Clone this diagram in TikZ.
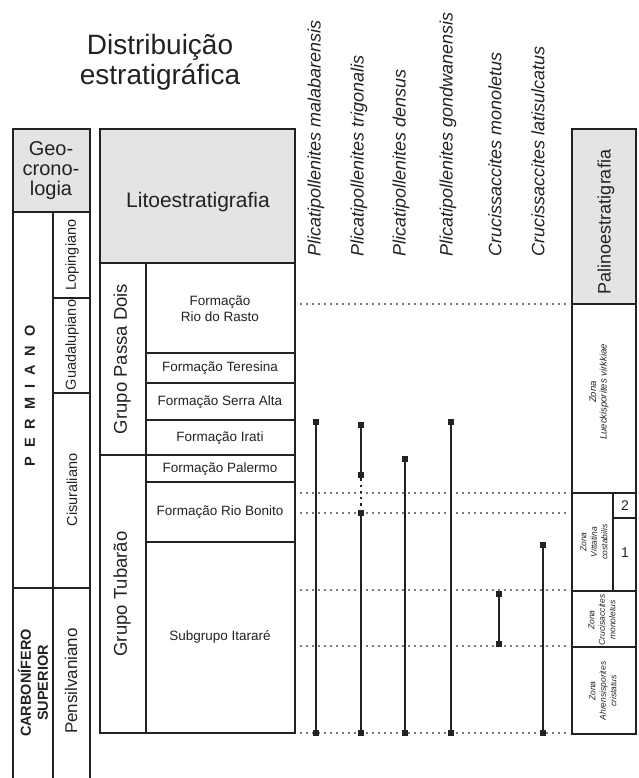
\documentclass[tikz,border=0pt]{standalone}
\usepackage{fontspec}
\setmainfont{Liberation Sans}
\usepackage{xcolor}
\usepackage{tikz}
\definecolor{ink}{HTML}{222222}
\definecolor{head}{HTML}{E4E4E6}
\definecolor{dots}{HTML}{7A7A7A}

\begin{document}
\begin{tikzpicture}[x=1pt,y=-1pt,every node/.style={text=ink,inner sep=0pt},
    boxline/.style={draw=ink,line width=1.9pt},
    header/.style={fill=head,draw=ink,line width=1.9pt},
    epoch/.style={rotate=90,font=\fontsize{14.5}{16}\selectfont},
    era/.style={rotate=90,align=center,font=\fontsize{14.5}{17}\selectfont\bfseries},
    grupo/.style={rotate=90,font=\fontsize{18.5}{20}\selectfont},
    formacao/.style={align=center,font=\fontsize{13.5}{16}\selectfont},
    taxon/.style={rotate=90,anchor=west,font=\fontsize{18}{20}\selectfont\itshape},
    zona/.style={rotate=90,align=center,font=\fontsize{8.5}{10.5}\selectfont\itshape},
    rangebar/.style={draw=ink,line width=2.3pt},
    rangegap/.style={draw=ink,line width=2.3pt,dash pattern=on 2.3pt off 4pt},
    corr/.style={draw=dots,line width=1.6pt,dash pattern=on 1.6pt off 4.4pt},
    endmark/.style={fill=ink,minimum size=6pt,inner sep=0pt}]
    \useasboundingbox (0,0) rectangle (638,778);

    % title
    \node[align=center,font=\fontsize{28}{30}\selectfont] (titulo) at (160,62) {Distribuição\\estratigráfica};

    % geocronologia
    \draw[header] (13,129) rectangle (90,212);
    \draw[boxline] (13,212) -- (13,778) (53,212) -- (53,778) (90,212) -- (90,778);
    \draw[boxline] (53,298) -- (90,298) (53,393) -- (90,393) (13,588) -- (90,588);
    \node[align=center,font=\fontsize{20}{20}\selectfont] (geo) at (51,171) {Geo-\\crono-\\logia};
    \node[era] (permiano) at (30,396) {P\hspace{9pt}E\hspace{9pt}R\hspace{9pt}M\hspace{9pt}I\hspace{9pt}A\hspace{9pt}N\hspace{9pt}O};
    \node[era] (carbonifero) at (33,683) {CARBONÍFERO\\SUPERIOR};
    \node[epoch] (lopingiano) at (72,255) {Lopingiano};
    \node[epoch] (guadalupiano) at (72,345) {Guadalupiano};
    \node[epoch] (cisuraliano) at (72,490) {Cisuraliano};
    \node[epoch,font=\fontsize{17}{18}\selectfont] (pensilvaniano) at (71,681) {Pensilvaniano};

    % litoestratigrafia
    \draw[header] (100,129) rectangle (295,263);
    \draw[boxline] (100,263) rectangle (295,733);
    \draw[boxline] (146,263) -- (146,733) (100,455) -- (295,455);
    \draw[boxline] (146,353) -- (295,353) (146,383) -- (295,383) (146,420) -- (295,420)
                 (146,482) -- (295,482) (146,542) -- (295,542);
    \node[font=\fontsize{21}{22}\selectfont] (lito) at (198,202) {Litoestratigrafia};
    \node[grupo] (passadois) at (122,359) {Grupo Passa Dois};
    \node[grupo] (tubarao) at (122,594) {Grupo Tubarão};
    \node[formacao] (riorasto) at (220,309) {Formação\\Rio do Rasto};
    \node[formacao] (teresina) at (220,368) {Formação Teresina};
    \node[formacao] (serraalta) at (220,402) {Formação Serra Alta};
    \node[formacao] (irati) at (220,438) {Formação Irati};
    \node[formacao] (palermo) at (220,469) {Formação Palermo};
    \node[formacao] (riobonito) at (220,512) {Formação Rio Bonito};
    \node[formacao] (itarare) at (220,637) {Subgrupo Itararé};

    % palinoestratigrafia
    \draw[header] (572,129) rectangle (636,304);
    \draw[boxline] (572,304) rectangle (636,734);
    \draw[boxline] (572,493) -- (636,493) (572,591) -- (636,591) (572,647) -- (636,647);
    \draw[boxline] (613,493) -- (613,591) (613,518) -- (636,518);
    \node[rotate=90,font=\fontsize{18}{20}\selectfont] (palino) at (606,222) {Palinoestratigrafia};
    \node[zona,font=\fontsize{9.5}{10.5}\selectfont\itshape] (lueckisporites) at (599,392) {Zona\\Lueckisporites virkkiae};
    \node[zona] (vittatina) at (594,542) {Zona\\Vittatina\\costabilis};
    \node[font=\fontsize{14}{16}\selectfont] (sub2) at (625,506) {2};
    \node[font=\fontsize{14}{16}\selectfont] (sub1) at (625,553) {1};
    \node[zona] (crucisaccites) at (602,620) {Zona\\Crucisaccites\\monoletus};
    \node[zona] (ahrensisporites) at (603,691) {Zona\\Ahrensisporites\\cristatus};

    % taxa
    \node[taxon] (t-malabarensis) at (316,257) {Plicatipollenites malabarensis};
    \node[taxon] (t-trigonalis) at (359,257) {Plicatipollenites trigonalis};
    \node[taxon] (t-densus) at (401,257) {Plicatipollenites densus};
    \node[taxon] (t-gondwanensis) at (448,257) {Plicatipollenites gondwanensis};
    \node[taxon] (t-monoletus) at (495,257) {Crucissaccites monoletus};
    \node[taxon] (t-latisulcatus) at (538,257) {Crucissaccites latisulcatus};

    % correlation lines
    \foreach \y in {304,493,513,590,646,733}
      \draw[corr] (300,\y) -- (570,\y);

    % ranges
    \foreach \name/\x/\top in {malabarensis/316/422,densus/405/459,gondwanensis/451/422,latisulcatus/543/545}{
      \node[endmark] (\name-top) at (\x,\top) {};
      \node[endmark] (\name-bot) at (\x,733) {};
      \draw[rangebar] (\name-top) -- (\name-bot);
    }
    \node[endmark] (trigonalis-top) at (361,425) {};
    \node[endmark] (trigonalis-a) at (361,475) {};
    \node[endmark] (trigonalis-b) at (361,513) {};
    \node[endmark] (trigonalis-bot) at (361,733) {};
    \draw[rangebar] (trigonalis-top) -- (trigonalis-a);
    \draw[rangegap] (trigonalis-a) -- (trigonalis-b);
    \draw[rangebar] (trigonalis-b) -- (trigonalis-bot);
    \node[endmark] (monoletus-top) at (499,594) {};
    \node[endmark] (monoletus-bot) at (499,644) {};
    \draw[rangebar] (monoletus-top) -- (monoletus-bot);
  \end{tikzpicture}
\end{document}
